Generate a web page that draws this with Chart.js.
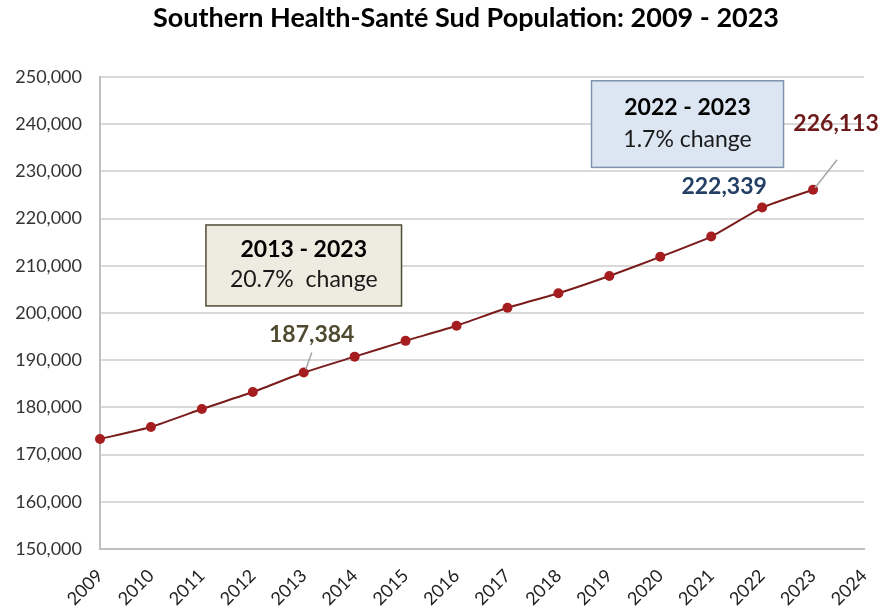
<!DOCTYPE html>
<html>
<head>
<meta charset="utf-8">
<script src="https://cdn.jsdelivr.net/npm/chart.js@4/dist/chart.umd.min.js"></script>
<style>
  html, body { margin: 0; padding: 0; background: #fff; }
  #wrap { width: 881px; height: 606px; }
</style>
</head>
<body>
<div id="wrap"><canvas id="grafico"></canvas></div>
<script>
// Data
const years = ['2009', '2010', '2011', '2012', '2013', '2014', '2015', '2016',
  '2017', '2018', '2019', '2020', '2021', '2022', '2023', '2024'];
const population = [173300, 175850, 179650, 183250, 187384, 190750, 194100, 197300,
  201100, 204200, 207850, 211900, 216200, 222339, 226113];
const yTicks = [150000, 160000, 170000, 180000, 190000, 200000, 210000, 220000,
  230000, 240000, 250000];

const titleText = 'Southern Health-Santé Sud Population: 2009 - 2023';
const changeBoxes = [
  { lines: ['2013 - 2023', '20.7%  change'], x0: 2.08, x1: 5.92, y0: 218650, y1: 201500,
    fill: '#eeece1', stroke: '#4f4c38' },
  { lines: ['2022 - 2023', '1.7% change'], x0: 9.65, x1: 13.42, y0: 249200, y1: 230850,
    fill: '#dce6f2', stroke: '#7f93ad' }
];
// callouts: which point, label offset, leader line
const callouts = [
  { idx: 4, color: '#4f4a30', dx: 8, dy: -38, leader: [[2, -3], [8, -20]] },
  { idx: 13, color: '#244064', dx: -38, dy: -21, leader: null },
  { idx: 14, color: '#6e1a1a', dx: 23, dy: -66, leader: [[2, -2], [24, -30]] }
];

const fmt = v => v.toLocaleString('en-US');
const FONT = 'Lato, "Open Sans", sans-serif';

const decoraciones = {
  id: 'decoraciones',
  afterDatasetsDraw(chart) {
    const { ctx, scales: { x, y } } = chart;
    ctx.save();

    // title
    ctx.fillStyle = '#000';
    ctx.font = 'bold 27px ' + FONT;
    ctx.textAlign = 'center';
    ctx.textBaseline = 'middle';
    ctx.fillText(titleText, 466, 18);

    // change boxes
    changeBoxes.forEach(b => {
      const l = x.getPixelForValue(b.x0), r = x.getPixelForValue(b.x1);
      const t = y.getPixelForValue(b.y0), btm = y.getPixelForValue(b.y1);
      ctx.fillStyle = b.fill;
      ctx.fillRect(l, t, r - l, btm - t);
      ctx.strokeStyle = b.stroke;
      ctx.lineWidth = 1.5;
      ctx.strokeRect(l, t, r - l, btm - t);
      const cx = (l + r) / 2, h = btm - t;
      ctx.fillStyle = '#000';
      ctx.font = 'bold 23px ' + FONT;
      ctx.fillText(b.lines[0], cx, t + h * 0.31);
      ctx.fillStyle = '#1a1a1a';
      ctx.font = '23px ' + FONT;
      ctx.fillText(b.lines[1], cx, t + h * 0.68);
    });

    // value callouts
    callouts.forEach(c => {
      const px = x.getPixelForValue(c.idx), py = y.getPixelForValue(population[c.idx]);
      if (c.leader) {
        ctx.strokeStyle = '#a6a6a6';
        ctx.lineWidth = 1.5;
        ctx.beginPath();
        ctx.moveTo(px + c.leader[0][0], py + c.leader[0][1]);
        ctx.lineTo(px + c.leader[1][0], py + c.leader[1][1]);
        ctx.stroke();
      }
      ctx.fillStyle = c.color;
      ctx.font = 'bold 23px ' + FONT;
      ctx.fillText(fmt(population[c.idx]), px + c.dx, py + c.dy);
    });

    ctx.restore();
  }
};

const ctx1 = document.getElementById('grafico').getContext('2d');
new Chart(ctx1, {
  type: 'line',
  data: {
    labels: years,
    datasets: [{
      label: 'Population',
      data: population,
      borderColor: '#7b1c1c',
      borderWidth: 2,
      backgroundColor: '#a51d1f',
      pointBackgroundColor: '#a51d1f',
      pointBorderColor: '#a51d1f',
      pointBorderWidth: 0,
      pointRadius: 5,
      tension: 0.15,
      fill: false
    }]
  },
  options: {
    responsive: true,
    maintainAspectRatio: false,
    animation: false,
    layout: { padding: { top: 77, right: 17, bottom: 0, left: 0 } },
    plugins: { legend: { display: false }, title: { display: false }, tooltip: { enabled: false } },
    scales: {
      x: {
        offset: false,
        grid: { display: false, drawTicks: false },
        border: { display: true, color: '#bfbfbf', width: 2 },
        ticks: {
          autoSkip: false, maxRotation: 45, minRotation: 45, padding: 16,
          color: '#222', font: { family: FONT, size: 18 }
        },
        afterFit: s => { s.height = 57; s.paddingLeft = 0; s.paddingRight = 0; }
      },
      y: {
        min: 150000, max: 250000,
        afterBuildTicks: s => { s.ticks = yTicks.map(v => ({ value: v })); },
        grid: { color: '#d9d9d9', lineWidth: 2, drawTicks: false },
        border: { display: true, color: '#bfbfbf', width: 2 },
        ticks: {
          padding: 18, color: '#333', font: { family: FONT, size: 18 },
          callback: v => fmt(v)
        },
        afterFit: s => { s.width = 100; }
      }
    }
  },
  plugins: [decoraciones]
});
</script>
</body>
</html>
